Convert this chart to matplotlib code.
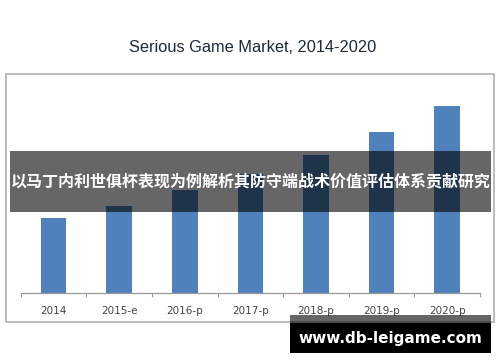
import matplotlib

matplotlib.use("Agg")

import matplotlib.pyplot as plt
import numpy as np
from matplotlib.patches import Rectangle

WIDTH_PX = 500
HEIGHT_PX = 362
DPI = 100

# market size (relative units)
years = ["2014", "2015-e", "2016-p", "2017-p", "2018-p", "2019-p", "2020-p"]
market = [7.5, 8.7, 10.3, 11.9, 13.8, 16.1, 18.7]

title = "Serious Game Market, 2014-2020"
banner = "以马丁内利世俱杯表现为例解析其防守端战术价值评估体系贡献研究"
watermark = "www.db-leigame.com"

BAR_COLOR = "#4f81bd"


def px(x, y):
    # pixel (from top-left) -> figure fraction
    return x / WIDTH_PX, 1 - y / HEIGHT_PX


fig = plt.figure(figsize=(WIDTH_PX / DPI, HEIGHT_PX / DPI), dpi=DPI, facecolor="white")

# background layer: chart frame
bg = fig.add_axes([0, 0, 1, 1], zorder=0)
bg.set_axis_off()
bg.set_xlim(0, 1)
bg.set_ylim(0, 1)
x0, y1 = px(6, 322)
x1, y0 = px(493.5, 74)
bg.add_patch(Rectangle((x0, y1), x1 - x0, y0 - y1, facecolor="white",
                       edgecolor="#b0b0b0", linewidth=1.2))

tx, ty = px(253, 47.5)
fig.text(tx, ty, title, fontsize=11.8, family="Liberation Sans",
         color="#1c2a3a", ha="center", va="center")

# bar chart
left, bottom = px(20.7, 293)
right, top = px(480, 80)
ax = fig.add_axes([left, bottom, right - left, top - bottom], zorder=1)
ax.patch.set_alpha(0)
x = np.arange(len(years))
ax.bar(x, market, width=0.39, color=BAR_COLOR, zorder=2)
ax.set_xlim(-0.5, len(years) - 0.5)
ax.set_ylim(0, 21.3)
ax.set_xticks(x)
ax.set_xticklabels(years, fontsize=7.5, color="#444444", family="DejaVu Sans")
ax.set_xticks(np.arange(len(years) + 1) - 0.5, minor=True)
ax.tick_params(axis="x", which="major", length=0, pad=9)
ax.tick_params(axis="x", which="minor", length=3, color="#999999", width=0.8)
ax.set_yticks([])
for side in ("top", "right", "left"):
    ax.spines[side].set_visible(False)
ax.spines["bottom"].set_color("#999999")
ax.spines["bottom"].set_linewidth(0.9)

# overlay layer: translucent banner and watermark
ov = fig.add_axes([0, 0, 1, 1], zorder=2)
ov.set_axis_off()
ov.set_xlim(0, 1)
ov.set_ylim(0, 1)
ov.patch.set_alpha(0)

bx0, by1 = px(10, 211.5)
bx1, by0 = px(491, 151)
ov.add_patch(Rectangle((bx0, by1), bx1 - bx0, by0 - by1, facecolor="black",
                       alpha=0.6, linewidth=0))
cx, cy = px(250.5, 181.5)
ov.text(cx, cy, banner, fontsize=11.5, fontweight="bold", color="white",
        ha="center", va="center", family=["Noto Sans CJK SC", "DejaVu Sans"])

wx0, wy1 = px(290, 323)
wx1, wy0 = px(491, 315)
ov.add_patch(Rectangle((wx0, wy1), wx1 - wx0, wy0 - wy1, facecolor="black",
                       alpha=0.6, linewidth=0))
_, wy2 = px(0, 353)
ov.add_patch(Rectangle((wx0, wy2), wx1 - wx0, wy1 - wy2, facecolor="black",
                       linewidth=0))
mx, my = px(390, 338)
ov.text(mx, my, watermark, fontsize=11, fontweight="bold", color="white",
        ha="center", va="center", family="DejaVu Sans")

fig.savefig("out.png", dpi=DPI, facecolor="white")
plt.close(fig)
